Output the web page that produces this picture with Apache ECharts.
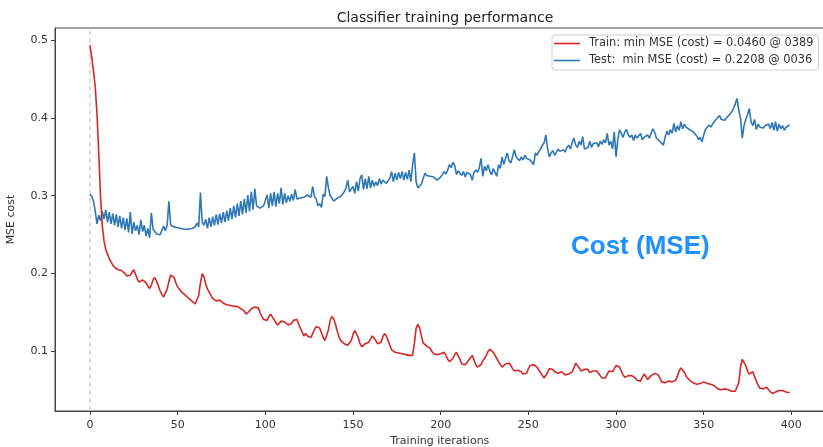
<!DOCTYPE html>
<html>
<head>
<meta charset="utf-8">
<script src="https://cdn.jsdelivr.net/npm/echarts@6/dist/echarts.min.js"></script>
<style>html,body{margin:0;padding:0;background:#fff}#c{width:823px;height:447px}</style>
</head>
<body>
<div id="c"></div>
<script>
const titleText = 'Classifier training performance';
const xName = 'Training iterations';
const yName = 'MSE cost';
const annotation = 'Cost (MSE)';
const trainName = 'Train: min MSE (cost) = 0.0460 @ 0389';
const testName = 'Test:  min MSE (cost) = 0.2208 @ 0036';
const xTicks = [0, 50, 100, 150, 200, 250, 300, 350, 400];
const yTicks = [0.1, 0.2, 0.3, 0.4, 0.5];
const refLineX = 0;

const trainCost = [
0.493,0.478,0.460,0.440,0.405,0.355,0.300,0.262,0.242,0.231,
0.225,0.219,0.215,0.211,0.208,0.206,0.205,0.205,0.204,0.204,
0.200,0.197,0.195,0.198,0.202,0.205,0.199,0.193,0.189,0.190,
0.192,0.192,0.188,0.184,0.181,0.185,0.192,0.195,0.190,0.184,
0.178,0.173,0.170,0.171,0.180,0.190,0.198,0.200,0.195,0.188,
0.183,0.180,0.177,0.175,0.173,0.171,0.169,0.167,0.165,0.163,
0.161,0.161,0.172,0.188,0.200,0.196,0.187,0.180,0.178,0.172,
0.168,0.166,0.165,0.165,0.166,0.165,0.162,0.160,0.160,0.161,
0.159,0.158,0.158,0.157,0.158,0.156,0.155,0.156,0.152,0.148,
0.149,0.152,0.155,0.154,0.157,0.158,0.156,0.150,0.145,0.141,
0.139,0.140,0.145,0.148,0.146,0.141,0.137,0.134,0.136,0.139,
0.139,0.138,0.136,0.134,0.134,0.136,0.140,0.142,0.141,0.135,
0.130,0.125,0.120,0.123,0.120,0.122,0.118,0.120,0.128,0.132,
0.132,0.130,0.124,0.118,0.114,0.116,0.128,0.140,0.145,0.142,
0.135,0.126,0.119,0.114,0.112,0.110,0.109,0.108,0.110,0.114,
0.122,0.127,0.125,0.118,0.110,0.106,0.108,0.110,0.111,0.112,
0.116,0.120,0.118,0.114,0.110,0.108,0.112,0.119,0.123,0.120,
0.114,0.108,0.102,0.100,0.099,0.098,0.098,0.098,0.097,0.097,
0.096,0.096,0.095,0.096,0.095,0.110,0.130,0.135,0.130,0.120,
0.111,0.109,0.107,0.106,0.104,0.100,0.097,0.095,0.096,0.098,
0.097,0.099,0.099,0.095,0.090,0.087,0.087,0.091,0.096,0.099,
0.097,0.090,0.084,0.082,0.083,0.086,0.089,0.092,0.095,0.089,
0.083,0.080,0.080,0.083,0.088,0.091,0.095,0.100,0.103,0.103,
0.099,0.095,0.091,0.087,0.083,0.080,0.082,0.084,0.085,0.085,
0.082,0.078,0.075,0.074,0.076,0.077,0.074,0.071,0.069,0.072,
0.078,0.082,0.083,0.083,0.081,0.080,0.076,0.073,0.069,0.066,
0.068,0.073,0.078,0.078,0.077,0.074,0.072,0.072,0.073,0.074,
0.072,0.070,0.070,0.071,0.073,0.074,0.079,0.085,0.084,0.079,
0.075,0.074,0.077,0.079,0.077,0.073,0.072,0.075,0.077,0.075,
0.072,0.069,0.066,0.065,0.066,0.071,0.075,0.073,0.074,0.078,
0.082,0.083,0.080,0.075,0.070,0.067,0.068,0.069,0.070,0.069,
0.068,0.066,0.063,0.061,0.062,0.067,0.071,0.068,0.064,0.065,
0.069,0.071,0.072,0.071,0.070,0.066,0.061,0.059,0.060,0.062,
0.062,0.061,0.061,0.061,0.063,0.068,0.075,0.079,0.076,0.073,
0.068,0.066,0.063,0.061,0.060,0.059,0.058,0.058,0.059,0.060,
0.061,0.060,0.059,0.059,0.058,0.058,0.056,0.054,0.052,0.050,
0.051,0.052,0.052,0.051,0.051,0.050,0.049,0.049,0.049,0.050,
0.060,0.080,0.090,0.088,0.082,0.075,0.071,0.073,0.074,0.068,
0.062,0.057,0.053,0.051,0.052,0.053,0.054,0.051,0.049,0.046,
0.047,0.048,0.049,0.050,0.050,0.050,0.049,0.048,0.047,0.047
];

const testCost = [
0.302,0.299,0.293,0.280,0.264,0.275,0.268,0.280,0.270,0.282,
0.266,0.279,0.264,0.277,0.262,0.276,0.260,0.274,0.258,0.272,
0.256,0.271,0.253,0.279,0.251,0.266,0.255,0.262,0.250,0.269,
0.254,0.262,0.248,0.258,0.246,0.278,0.257,0.255,0.251,0.252,
0.250,0.249,0.261,0.255,0.262,0.293,0.262,0.261,0.260,0.259,
0.259,0.258,0.258,0.257,0.257,0.257,0.257,0.258,0.258,0.259,
0.260,0.265,0.260,0.304,0.266,0.262,0.270,0.258,0.272,0.260,
0.273,0.262,0.276,0.263,0.277,0.265,0.279,0.266,0.281,0.268,
0.284,0.270,0.287,0.272,0.290,0.274,0.293,0.276,0.296,0.278,
0.301,0.280,0.305,0.282,0.309,0.287,0.285,0.284,0.285,0.287,
0.286,0.301,0.284,0.303,0.287,0.305,0.286,0.303,0.290,0.310,
0.289,0.303,0.291,0.300,0.293,0.302,0.294,0.308,0.296,0.296,
0.297,0.297,0.298,0.297,0.301,0.300,0.298,0.312,0.299,0.296,
0.287,0.290,0.285,0.302,0.299,0.325,0.310,0.300,0.297,0.293,
0.295,0.297,0.298,0.299,0.300,0.305,0.310,0.320,0.305,0.303,
0.312,0.303,0.318,0.306,0.322,0.327,0.308,0.322,0.309,0.325,
0.310,0.320,0.312,0.318,0.313,0.322,0.315,0.320,0.318,0.316,
0.319,0.322,0.331,0.318,0.329,0.320,0.330,0.322,0.331,0.320,
0.330,0.321,0.333,0.318,0.340,0.355,0.318,0.310,0.309,0.315,
0.322,0.329,0.326,0.327,0.325,0.326,0.324,0.323,0.320,0.322,
0.324,0.327,0.331,0.328,0.333,0.340,0.336,0.343,0.339,0.327,
0.332,0.331,0.326,0.331,0.324,0.330,0.328,0.327,0.320,0.330,
0.333,0.330,0.336,0.348,0.325,0.338,0.332,0.340,0.332,0.327,
0.335,0.330,0.325,0.340,0.335,0.350,0.340,0.348,0.355,0.345,
0.342,0.350,0.359,0.350,0.352,0.345,0.350,0.346,0.352,0.348,
0.350,0.346,0.348,0.340,0.355,0.352,0.357,0.360,0.365,0.368,
0.378,0.360,0.350,0.355,0.358,0.352,0.356,0.360,0.357,0.355,
0.359,0.356,0.362,0.365,0.360,0.368,0.374,0.365,0.362,0.370,
0.365,0.376,0.360,0.361,0.362,0.370,0.362,0.367,0.365,0.368,
0.363,0.370,0.366,0.372,0.368,0.380,0.365,0.370,0.360,0.382,
0.350,0.372,0.385,0.380,0.375,0.382,0.385,0.378,0.375,0.378,
0.371,0.378,0.374,0.375,0.380,0.372,0.375,0.376,0.378,0.374,
0.380,0.386,0.382,0.374,0.372,0.370,0.369,0.365,0.375,0.383,
0.378,0.385,0.380,0.393,0.382,0.390,0.384,0.395,0.386,0.392,
0.388,0.390,0.385,0.387,0.382,0.380,0.377,0.372,0.375,0.369,
0.378,0.385,0.386,0.391,0.388,0.392,0.390,0.398,0.396,0.403,
0.398,0.400,0.397,0.400,0.402,0.405,0.408,0.412,0.418,0.425,
0.410,0.400,0.374,0.390,0.398,0.404,0.412,0.395,0.390,0.398,
0.385,0.392,0.388,0.389,0.387,0.390,0.388,0.392,0.386,0.394,
0.384,0.395,0.383,0.392,0.386,0.390,0.384,0.388,0.386,0.391
];

const iterations = trainCost.map((_, i) => i);
const trainData = iterations.map(i => [i, trainCost[i]]);
const testData = iterations.map(i => [i, testCost[i]]);

const yMin = 0.0236, yMax = 0.5154;
const font = 'DejaVu Sans';
const chart = echarts.init(document.getElementById('c'), null, {renderer: 'canvas'});
chart.setOption({
  animation: false,
  backgroundColor: '#ffffff',
  textStyle: {fontFamily: font},
  title: {
    text: titleText, left: 440, top: 6, textAlign: 'center',
    textStyle: {fontFamily: font, fontSize: 14, fontWeight: 'normal', color: '#222'}
  },
  grid: {left: 55, top: 28, width: 769.6, height: 383, show: true, borderColor: '#444', borderWidth: 1,
         containLabel: false, outerBoundsMode: 'none'},
  legend: {
    orient: 'vertical', left: 552, top: 35,
    backgroundColor: 'rgba(255,255,255,0.85)', borderColor: '#d0d0d0', borderWidth: 1, borderRadius: 3,
    padding: [3, 5, 4, 2], itemGap: 6, itemWidth: 26, itemHeight: 13,
    icon: 'path://M0,6 L26,6 L26,7.6 L0,7.6 Z',
    textStyle: {fontFamily: font, fontSize: 11.4, color: '#333', padding: [0, 0, 0, 4]},
    data: [{name: trainName}, {name: testName}]
  },
  xAxis: {
    type: 'value', min: -19.95, max: 418.95,
    name: xName, nameLocation: 'middle', nameGap: 25,
    nameTextStyle: {fontFamily: font, fontSize: 11, color: '#333'},
    axisLine: {show: true, onZero: false, lineStyle: {color: '#444', width: 1}},
    axisTick: {show: true, inside: false, length: 4, lineStyle: {color: '#444'}, customValues: xTicks},
    axisLabel: {customValues: xTicks, margin: 9, fontFamily: font, fontSize: 11, color: '#333'},
    splitLine: {show: false}
  },
  yAxis: {
    type: 'value', min: yMin, max: yMax,
    name: yName, nameLocation: 'middle', nameGap: 38, nameRotate: 90, nameMoveOverlap: false,
    nameTextStyle: {fontFamily: font, fontSize: 11, color: '#333'},
    axisLine: {show: true, onZero: false, lineStyle: {color: '#444', width: 1}},
    axisTick: {show: true, inside: false, length: 4, lineStyle: {color: '#444'}, customValues: yTicks},
    axisLabel: {customValues: yTicks, margin: 7, fontFamily: font, fontSize: 11, color: '#333', formatter: v => v.toFixed(1)},
    splitLine: {show: false}
  },
  graphic: [{
    type: 'text', left: 571, top: 234, z: 10,
    style: {text: annotation, font: 'bold 26px "Liberation Sans", Arial, sans-serif', fill: '#1e90ff'}
  }],
  series: [
    {
      name: 'ref', type: 'line', data: [[refLineX, yMin], [refLineX, yMax]], symbol: 'none', silent: true,
      lineStyle: {color: '#cfcfcf', type: [5, 3], width: 1.3}, z: 1
    },
    {
      name: trainName, type: 'line', data: trainData, symbol: 'none', showSymbol: false,
      lineStyle: {color: '#d62728', width: 1.6}, itemStyle: {color: '#d62728'}, z: 3
    },
    {
      name: testName, type: 'line', data: testData, symbol: 'none', showSymbol: false,
      lineStyle: {color: '#2f78b6', width: 1.6}, itemStyle: {color: '#2f78b6'}, z: 2
    }
  ]
});
</script>
</body>
</html>
